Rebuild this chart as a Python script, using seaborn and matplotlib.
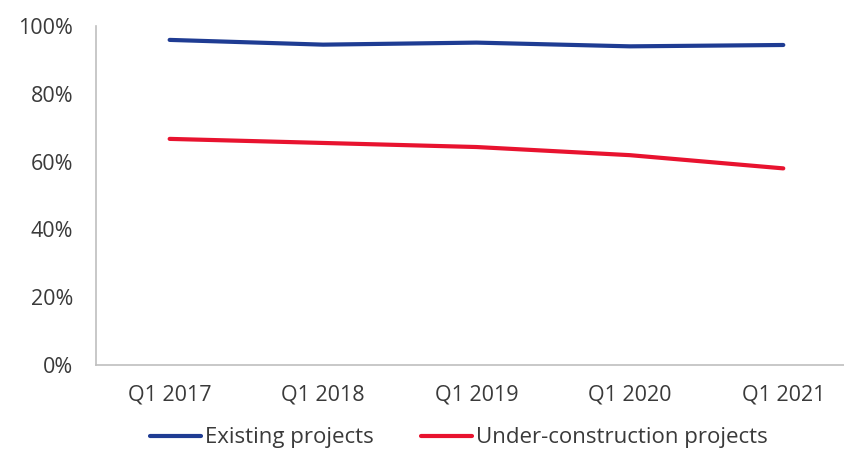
import matplotlib
matplotlib.use("Agg")
import matplotlib.pyplot as plt
import matplotlib.ticker as mticker
from matplotlib.lines import Line2D
import pandas as pd
import seaborn as sns

quarters = ["Q1 2017", "Q1 2018", "Q1 2019", "Q1 2020", "Q1 2021"]
existing = [95.9, 94.5, 95.1, 94.0, 94.4]
under_construction = [66.7, 65.5, 64.3, 61.9, 58.0]
series_names = ["Existing projects", "Under-construction projects"]
colors = ["#1F3C93", "#E8132F"]

df = pd.DataFrame({
    "quarter": quarters * 2,
    "pos": list(range(len(quarters))) * 2,
    "value": existing + under_construction,
    "series": [series_names[0]] * len(quarters) + [series_names[1]] * len(quarters),
})

sns.set_theme(style="white")
plt.rcParams["font.family"] = ["Open Sans", "DejaVu Sans"]

fig = plt.figure(figsize=(8.45, 4.51), dpi=100)
ax = fig.add_axes([96 / 845, 1 - 365 / 451, (860 - 96) / 845, (365 - 26) / 451])

sns.lineplot(data=df, x="pos", y="value", hue="series", palette=colors,
             linewidth=3.0, ax=ax, legend=False, solid_capstyle="round")

ax.set_xlim(-0.48, 4.5)
ax.set_ylim(0, 100)
ax.set_xticks(range(len(quarters)))
ax.set_xticklabels(quarters)
ax.set_yticks([0, 20, 40, 60, 80, 100])
ax.yaxis.set_major_formatter(mticker.FuncFormatter(lambda v, _: f"{v:.0f}%"))
ax.set_xlabel("")
ax.set_ylabel("")

for side in ["top", "right"]:
    ax.spines[side].set_visible(False)
for side in ["left", "bottom"]:
    ax.spines[side].set_color("#BFBFBF")
    ax.spines[side].set_linewidth(1.2)

ax.tick_params(axis="y", which="major", direction="out", length=6.5, width=1.2,
               color="#BFBFBF", labelsize=15.5, labelcolor="#3A3A3A", pad=10)
ax.tick_params(axis="x", which="major", length=0, labelsize=15.5,
               labelcolor="#3A3A3A", pad=14)

handles = [Line2D([0], [0], color=c, lw=3.0) for c in colors]
fig.legend(handles, series_names, loc="center", bbox_to_anchor=(0.543, 1 - 438 / 451),
           ncol=2, frameon=False, fontsize=16, handlelength=2.3,
           handletextpad=0.18, columnspacing=2.1, labelcolor="#3A3A3A")

fig.savefig("out.png", dpi=100, facecolor="white")
